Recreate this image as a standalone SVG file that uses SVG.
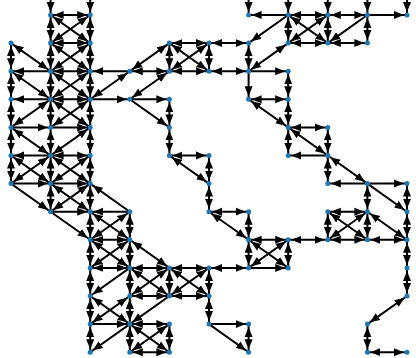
<svg xmlns="http://www.w3.org/2000/svg" width="416" height="358" viewBox="0 0 416 358">
<defs>
<marker id="ah" markerUnits="userSpaceOnUse" markerWidth="14" markerHeight="9" refX="13" refY="4" orient="auto-start-reverse" viewBox="0 0 14 8">
<path d="M0,0 L10,4 L0,8 z" fill="#000"/>
</marker>
</defs>
<style>
line{stroke:#000;stroke-width:2;fill:none}
.b{marker-start:url(#ah);marker-end:url(#ah)}
.f{marker-end:url(#ah)}
circle{fill:#1f77b4}
</style>
<rect width="416" height="358" fill="#fff"/>
<g id="edges">
<line class="b" x1="50.6" y1="-13" x2="50.6" y2="15"/>
<line class="b" x1="90.2" y1="-13" x2="90.2" y2="15"/>
<line class="b" x1="50.6" y1="15" x2="90.2" y2="15"/>
<line class="b" x1="50.6" y1="15" x2="50.6" y2="43.1"/>
<line class="b" x1="90.2" y1="15" x2="90.2" y2="43.1"/>
<line class="b" x1="50.6" y1="15" x2="90.2" y2="43.1"/>
<line class="b" x1="90.2" y1="15" x2="50.6" y2="43.1"/>
<line class="b" x1="50.6" y1="43.1" x2="90.2" y2="43.1"/>
<line class="b" x1="50.6" y1="43.1" x2="50.6" y2="71.2"/>
<line class="b" x1="90.2" y1="43.1" x2="90.2" y2="71.2"/>
<line class="b" x1="50.6" y1="43.1" x2="90.2" y2="71.2"/>
<line class="b" x1="90.2" y1="43.1" x2="50.6" y2="71.2"/>
<line class="b" x1="11" y1="43.1" x2="11" y2="71.2"/>
<line class="b" x1="50.6" y1="71.2" x2="11" y2="43.1"/>
<line class="f" x1="50.6" y1="71.2" x2="11" y2="71.2"/>
<line class="b" x1="50.6" y1="71.2" x2="90.2" y2="71.2"/>
<line class="f" x1="129.8" y1="71.2" x2="90.2" y2="71.2"/>
<line class="b" x1="129.8" y1="71.2" x2="169.4" y2="43.1"/>
<line class="b" x1="129.8" y1="71.2" x2="90.2" y2="99.3"/>
<line class="b" x1="11" y1="71.2" x2="11" y2="99.3"/>
<line class="b" x1="50.6" y1="71.2" x2="50.6" y2="99.3"/>
<line class="b" x1="90.2" y1="71.2" x2="90.2" y2="99.3"/>
<line class="b" x1="11" y1="71.2" x2="50.6" y2="99.3"/>
<line class="b" x1="90.2" y1="71.2" x2="50.6" y2="99.3"/>
<line class="b" x1="50.6" y1="71.2" x2="90.2" y2="99.3"/>
<line class="f" x1="50.6" y1="99.3" x2="11" y2="99.3"/>
<line class="b" x1="50.6" y1="99.3" x2="90.2" y2="99.3"/>
<line class="f" x1="90.2" y1="99.3" x2="129.8" y2="99.3"/>
<line class="b" x1="11" y1="99.3" x2="11" y2="127.4"/>
<line class="b" x1="50.6" y1="99.3" x2="50.6" y2="127.4"/>
<line class="b" x1="90.2" y1="99.3" x2="90.2" y2="127.4"/>
<line class="b" x1="50.6" y1="99.3" x2="11" y2="127.4"/>
<line class="b" x1="50.6" y1="99.3" x2="90.2" y2="127.4"/>
<line class="b" x1="90.2" y1="99.3" x2="50.6" y2="127.4"/>
<line class="f" x1="11" y1="127.4" x2="50.6" y2="127.4"/>
<line class="f" x1="50.6" y1="127.4" x2="90.2" y2="127.4"/>
<line class="b" x1="11" y1="127.4" x2="50.6" y2="155.5"/>
<line class="b" x1="90.2" y1="127.4" x2="50.6" y2="155.5"/>
<line class="b" x1="50.6" y1="127.4" x2="50.6" y2="155.5"/>
<line class="b" x1="90.2" y1="127.4" x2="90.2" y2="155.5"/>
<line class="b" x1="11" y1="127.4" x2="11" y2="155.5"/>
<line class="f" x1="50.6" y1="155.5" x2="11" y2="155.5"/>
<line class="b" x1="50.6" y1="155.5" x2="90.2" y2="155.5"/>
<line class="b" x1="11" y1="155.5" x2="11" y2="183.6"/>
<line class="b" x1="50.6" y1="155.5" x2="50.6" y2="183.6"/>
<line class="b" x1="90.2" y1="155.5" x2="90.2" y2="183.6"/>
<line class="b" x1="11" y1="155.5" x2="50.6" y2="183.6"/>
<line class="b" x1="50.6" y1="155.5" x2="11" y2="183.6"/>
<line class="b" x1="50.6" y1="155.5" x2="90.2" y2="183.6"/>
<line class="b" x1="90.2" y1="155.5" x2="50.6" y2="183.6"/>
<line class="f" x1="11" y1="183.6" x2="50.6" y2="183.6"/>
<line class="f" x1="50.6" y1="183.6" x2="90.2" y2="183.6"/>
<line class="f" x1="11" y1="183.6" x2="50.6" y2="211.7"/>
<line class="b" x1="50.6" y1="183.6" x2="50.6" y2="211.7"/>
<line class="b" x1="90.2" y1="183.6" x2="90.2" y2="211.7"/>
<line class="b" x1="50.6" y1="183.6" x2="90.2" y2="211.7"/>
<line class="b" x1="90.2" y1="183.6" x2="50.6" y2="211.7"/>
<line class="f" x1="129.8" y1="211.7" x2="90.2" y2="183.6"/>
<line class="f" x1="50.6" y1="211.7" x2="90.2" y2="211.7"/>
<line class="f" x1="129.8" y1="211.7" x2="90.2" y2="211.7"/>
<line class="f" x1="50.6" y1="211.7" x2="90.2" y2="239.8"/>
<line class="b" x1="90.2" y1="211.7" x2="90.2" y2="239.8"/>
<line class="b" x1="90.2" y1="211.7" x2="129.8" y2="239.8"/>
<line class="b" x1="129.8" y1="211.7" x2="90.2" y2="239.8"/>
<line class="b" x1="129.8" y1="211.7" x2="129.8" y2="239.8"/>
<line class="b" x1="90.2" y1="239.8" x2="129.8" y2="239.8"/>
<line class="b" x1="90.2" y1="239.8" x2="129.8" y2="267.9"/>
<line class="b" x1="129.8" y1="239.8" x2="90.2" y2="267.9"/>
<line class="b" x1="90.2" y1="239.8" x2="90.2" y2="267.9"/>
<line class="b" x1="129.8" y1="239.8" x2="129.8" y2="267.9"/>
<line class="b" x1="129.8" y1="239.8" x2="169.4" y2="267.9"/>
<line class="b" x1="90.2" y1="267.9" x2="129.8" y2="267.9"/>
<line class="b" x1="129.8" y1="267.9" x2="169.4" y2="267.9"/>
<line class="b" x1="169.4" y1="267.9" x2="209" y2="267.9"/>
<line class="b" x1="209" y1="267.9" x2="248.6" y2="267.9"/>
<line class="f" x1="248.6" y1="267.9" x2="288.2" y2="267.9"/>
<line class="b" x1="90.2" y1="267.9" x2="90.2" y2="296"/>
<line class="f" x1="129.8" y1="267.9" x2="90.2" y2="296"/>
<line class="b" x1="129.8" y1="267.9" x2="129.8" y2="296"/>
<line class="b" x1="129.8" y1="267.9" x2="169.4" y2="296"/>
<line class="b" x1="169.4" y1="267.9" x2="129.8" y2="296"/>
<line class="b" x1="169.4" y1="267.9" x2="209" y2="296"/>
<line class="b" x1="209" y1="267.9" x2="169.4" y2="296"/>
<line class="b" x1="169.4" y1="267.9" x2="169.4" y2="296"/>
<line class="b" x1="209" y1="267.9" x2="209" y2="296"/>
<line class="b" x1="129.8" y1="296" x2="169.4" y2="296"/>
<line class="b" x1="169.4" y1="296" x2="209" y2="296"/>
<line class="f" x1="169.4" y1="296" x2="129.8" y2="324.1"/>
<line class="b" x1="90.2" y1="296" x2="129.8" y2="324.1"/>
<line class="b" x1="129.8" y1="296" x2="90.2" y2="324.1"/>
<line class="b" x1="90.2" y1="296" x2="90.2" y2="324.1"/>
<line class="b" x1="129.8" y1="296" x2="129.8" y2="324.1"/>
<line class="f" x1="90.2" y1="324.1" x2="129.8" y2="324.1"/>
<line class="b" x1="129.8" y1="324.1" x2="169.4" y2="324.1"/>
<line class="f" x1="129.8" y1="324.1" x2="90.2" y2="352.2"/>
<line class="b" x1="90.2" y1="324.1" x2="90.2" y2="352.2"/>
<line class="b" x1="129.8" y1="324.1" x2="129.8" y2="352.2"/>
<line class="b" x1="129.8" y1="324.1" x2="169.4" y2="352.2"/>
<line class="b" x1="169.4" y1="324.1" x2="129.8" y2="352.2"/>
<line class="b" x1="169.4" y1="324.1" x2="169.4" y2="352.2"/>
<line class="b" x1="129.8" y1="352.2" x2="169.4" y2="352.2"/>
<line class="b" x1="209" y1="296" x2="209" y2="324.1"/>
<line class="f" x1="209" y1="324.1" x2="248.6" y2="324.1"/>
<line class="f" x1="209" y1="324.1" x2="248.6" y2="352.2"/>
<line class="b" x1="248.6" y1="324.1" x2="248.6" y2="352.2"/>
<line class="b" x1="129.8" y1="71.2" x2="169.4" y2="71.2"/>
<line class="b" x1="169.4" y1="71.2" x2="209" y2="71.2"/>
<line class="b" x1="209" y1="71.2" x2="248.6" y2="71.2"/>
<line class="f" x1="248.6" y1="71.2" x2="288.2" y2="71.2"/>
<line class="b" x1="169.4" y1="43.1" x2="209" y2="43.1"/>
<line class="b" x1="209" y1="43.1" x2="248.6" y2="43.1"/>
<line class="b" x1="169.4" y1="43.1" x2="169.4" y2="71.2"/>
<line class="b" x1="209" y1="43.1" x2="209" y2="71.2"/>
<line class="b" x1="169.4" y1="43.1" x2="209" y2="71.2"/>
<line class="b" x1="209" y1="43.1" x2="169.4" y2="71.2"/>
<line class="b" x1="248.6" y1="43.1" x2="248.6" y2="71.2"/>
<line class="f" x1="288.2" y1="15" x2="248.6" y2="43.1"/>
<line class="b" x1="248.6" y1="71.2" x2="288.2" y2="43.1"/>
<line class="b" x1="169.4" y1="71.2" x2="129.8" y2="99.3"/>
<line class="f" x1="129.8" y1="99.3" x2="169.4" y2="99.3"/>
<line class="f" x1="129.8" y1="99.3" x2="169.4" y2="127.4"/>
<line class="b" x1="169.4" y1="99.3" x2="169.4" y2="127.4"/>
<line class="b" x1="169.4" y1="127.4" x2="169.4" y2="155.5"/>
<line class="b" x1="169.4" y1="155.5" x2="209" y2="155.5"/>
<line class="b" x1="169.4" y1="155.5" x2="209" y2="183.6"/>
<line class="b" x1="209" y1="155.5" x2="209" y2="183.6"/>
<line class="b" x1="209" y1="183.6" x2="209" y2="211.7"/>
<line class="b" x1="209" y1="211.7" x2="248.6" y2="211.7"/>
<line class="b" x1="209" y1="211.7" x2="248.6" y2="239.8"/>
<line class="b" x1="248.6" y1="211.7" x2="248.6" y2="239.8"/>
<line class="b" x1="248.6" y1="239.8" x2="288.2" y2="239.8"/>
<line class="b" x1="248.6" y1="239.8" x2="288.2" y2="267.9"/>
<line class="b" x1="248.6" y1="267.9" x2="288.2" y2="239.8"/>
<line class="b" x1="248.6" y1="239.8" x2="248.6" y2="267.9"/>
<line class="b" x1="288.2" y1="239.8" x2="288.2" y2="267.9"/>
<line class="f" x1="248.6" y1="71.2" x2="248.6" y2="99.3"/>
<line class="b" x1="248.6" y1="99.3" x2="288.2" y2="99.3"/>
<line class="b" x1="248.6" y1="99.3" x2="288.2" y2="127.4"/>
<line class="b" x1="288.2" y1="71.2" x2="288.2" y2="99.3"/>
<line class="b" x1="288.2" y1="99.3" x2="288.2" y2="127.4"/>
<line class="b" x1="288.2" y1="127.4" x2="327.8" y2="127.4"/>
<line class="b" x1="288.2" y1="127.4" x2="327.8" y2="155.5"/>
<line class="b" x1="327.8" y1="127.4" x2="327.8" y2="155.5"/>
<line class="b" x1="288.2" y1="127.4" x2="288.2" y2="155.5"/>
<line class="f" x1="327.8" y1="155.5" x2="288.2" y2="155.5"/>
<line class="b" x1="327.8" y1="155.5" x2="367.4" y2="183.6"/>
<line class="b" x1="327.8" y1="155.5" x2="327.8" y2="183.6"/>
<line class="f" x1="367.4" y1="183.6" x2="327.8" y2="183.6"/>
<line class="f" x1="367.4" y1="183.6" x2="407" y2="183.6"/>
<line class="f" x1="367.4" y1="183.6" x2="407" y2="211.7"/>
<line class="b" x1="367.4" y1="183.6" x2="367.4" y2="211.7"/>
<line class="b" x1="407" y1="183.6" x2="407" y2="211.7"/>
<line class="b" x1="367.4" y1="211.7" x2="327.8" y2="211.7"/>
<line class="b" x1="327.8" y1="211.7" x2="367.4" y2="239.8"/>
<line class="b" x1="367.4" y1="211.7" x2="327.8" y2="239.8"/>
<line class="b" x1="327.8" y1="211.7" x2="327.8" y2="239.8"/>
<line class="b" x1="367.4" y1="211.7" x2="367.4" y2="239.8"/>
<line class="b" x1="367.4" y1="211.7" x2="407" y2="239.8"/>
<line class="b" x1="407" y1="211.7" x2="407" y2="239.8"/>
<line class="b" x1="288.2" y1="239.8" x2="327.8" y2="239.8"/>
<line class="b" x1="327.8" y1="239.8" x2="367.4" y2="239.8"/>
<line class="b" x1="367.4" y1="239.8" x2="407" y2="239.8"/>
<line class="b" x1="407" y1="239.8" x2="407" y2="267.9"/>
<line class="b" x1="407" y1="267.9" x2="407" y2="296"/>
<line class="b" x1="407" y1="296" x2="367.4" y2="324.1"/>
<line class="b" x1="367.4" y1="324.1" x2="367.4" y2="352.2"/>
<line class="b" x1="367.4" y1="352.2" x2="407" y2="352.2"/>
<line class="f" x1="248.6" y1="-13" x2="248.6" y2="15"/>
<line class="f" x1="288.2" y1="15" x2="248.6" y2="15"/>
<line class="b" x1="288.2" y1="15" x2="327.8" y2="15"/>
<line class="b" x1="367.4" y1="15" x2="327.8" y2="15"/>
<line class="f" x1="367.4" y1="15" x2="407" y2="15"/>
<line class="b" x1="288.2" y1="-13" x2="288.2" y2="15"/>
<line class="b" x1="327.8" y1="-13" x2="327.8" y2="15"/>
<line class="b" x1="367.4" y1="-13" x2="367.4" y2="15"/>
<line class="f" x1="407" y1="-13" x2="407" y2="15"/>
<line class="b" x1="288.2" y1="15" x2="288.2" y2="43.1"/>
<line class="b" x1="288.2" y1="15" x2="327.8" y2="43.1"/>
<line class="b" x1="327.8" y1="15" x2="288.2" y2="43.1"/>
<line class="b" x1="327.8" y1="15" x2="327.8" y2="43.1"/>
<line class="f" x1="367.4" y1="15" x2="327.8" y2="43.1"/>
<line class="b" x1="367.4" y1="15" x2="367.4" y2="43.1"/>
<line class="b" x1="288.2" y1="43.1" x2="327.8" y2="43.1"/>
<line class="b" x1="367.4" y1="43.1" x2="327.8" y2="43.1"/>
</g>
<g id="n1_0"><circle cx="50.6" cy="15" r="2.5"/></g>
<g id="n2_0"><circle cx="90.2" cy="15" r="2.5"/></g>
<g id="n6_0"><circle cx="248.6" cy="15" r="2.5"/></g>
<g id="n7_0"><circle cx="288.2" cy="15" r="2.5"/></g>
<g id="n8_0"><circle cx="327.8" cy="15" r="2.5"/></g>
<g id="n9_0"><circle cx="367.4" cy="15" r="2.5"/></g>
<g id="n10_0"><circle cx="407" cy="15" r="2.5"/></g>
<g id="n0_1"><circle cx="11" cy="43.1" r="2.5"/></g>
<g id="n1_1"><circle cx="50.6" cy="43.1" r="2.5"/></g>
<g id="n2_1"><circle cx="90.2" cy="43.1" r="2.5"/></g>
<g id="n4_1"><circle cx="169.4" cy="43.1" r="2.5"/></g>
<g id="n5_1"><circle cx="209" cy="43.1" r="2.5"/></g>
<g id="n6_1"><circle cx="248.6" cy="43.1" r="2.5"/></g>
<g id="n7_1"><circle cx="288.2" cy="43.1" r="2.5"/></g>
<g id="n8_1"><circle cx="327.8" cy="43.1" r="2.5"/></g>
<g id="n9_1"><circle cx="367.4" cy="43.1" r="2.5"/></g>
<g id="n0_2"><circle cx="11" cy="71.2" r="2.5"/></g>
<g id="n1_2"><circle cx="50.6" cy="71.2" r="2.5"/></g>
<g id="n2_2"><circle cx="90.2" cy="71.2" r="2.5"/></g>
<g id="n3_2"><circle cx="129.8" cy="71.2" r="2.5"/></g>
<g id="n4_2"><circle cx="169.4" cy="71.2" r="2.5"/></g>
<g id="n5_2"><circle cx="209" cy="71.2" r="2.5"/></g>
<g id="n6_2"><circle cx="248.6" cy="71.2" r="2.5"/></g>
<g id="n7_2"><circle cx="288.2" cy="71.2" r="2.5"/></g>
<g id="n0_3"><circle cx="11" cy="99.3" r="2.5"/></g>
<g id="n1_3"><circle cx="50.6" cy="99.3" r="2.5"/></g>
<g id="n2_3"><circle cx="90.2" cy="99.3" r="2.5"/></g>
<g id="n3_3"><circle cx="129.8" cy="99.3" r="2.5"/></g>
<g id="n4_3"><circle cx="169.4" cy="99.3" r="2.5"/></g>
<g id="n6_3"><circle cx="248.6" cy="99.3" r="2.5"/></g>
<g id="n7_3"><circle cx="288.2" cy="99.3" r="2.5"/></g>
<g id="n0_4"><circle cx="11" cy="127.4" r="2.5"/></g>
<g id="n1_4"><circle cx="50.6" cy="127.4" r="2.5"/></g>
<g id="n2_4"><circle cx="90.2" cy="127.4" r="2.5"/></g>
<g id="n4_4"><circle cx="169.4" cy="127.4" r="2.5"/></g>
<g id="n7_4"><circle cx="288.2" cy="127.4" r="2.5"/></g>
<g id="n8_4"><circle cx="327.8" cy="127.4" r="2.5"/></g>
<g id="n0_5"><circle cx="11" cy="155.5" r="2.5"/></g>
<g id="n1_5"><circle cx="50.6" cy="155.5" r="2.5"/></g>
<g id="n2_5"><circle cx="90.2" cy="155.5" r="2.5"/></g>
<g id="n4_5"><circle cx="169.4" cy="155.5" r="2.5"/></g>
<g id="n5_5"><circle cx="209" cy="155.5" r="2.5"/></g>
<g id="n7_5"><circle cx="288.2" cy="155.5" r="2.5"/></g>
<g id="n8_5"><circle cx="327.8" cy="155.5" r="2.5"/></g>
<g id="n0_6"><circle cx="11" cy="183.6" r="2.5"/></g>
<g id="n1_6"><circle cx="50.6" cy="183.6" r="2.5"/></g>
<g id="n2_6"><circle cx="90.2" cy="183.6" r="2.5"/></g>
<g id="n5_6"><circle cx="209" cy="183.6" r="2.5"/></g>
<g id="n8_6"><circle cx="327.8" cy="183.6" r="2.5"/></g>
<g id="n9_6"><circle cx="367.4" cy="183.6" r="2.5"/></g>
<g id="n10_6"><circle cx="407" cy="183.6" r="2.5"/></g>
<g id="n1_7"><circle cx="50.6" cy="211.7" r="2.5"/></g>
<g id="n2_7"><circle cx="90.2" cy="211.7" r="2.5"/></g>
<g id="n3_7"><circle cx="129.8" cy="211.7" r="2.5"/></g>
<g id="n5_7"><circle cx="209" cy="211.7" r="2.5"/></g>
<g id="n6_7"><circle cx="248.6" cy="211.7" r="2.5"/></g>
<g id="n8_7"><circle cx="327.8" cy="211.7" r="2.5"/></g>
<g id="n9_7"><circle cx="367.4" cy="211.7" r="2.5"/></g>
<g id="n10_7"><circle cx="407" cy="211.7" r="2.5"/></g>
<g id="n2_8"><circle cx="90.2" cy="239.8" r="2.5"/></g>
<g id="n3_8"><circle cx="129.8" cy="239.8" r="2.5"/></g>
<g id="n6_8"><circle cx="248.6" cy="239.8" r="2.5"/></g>
<g id="n7_8"><circle cx="288.2" cy="239.8" r="2.5"/></g>
<g id="n8_8"><circle cx="327.8" cy="239.8" r="2.5"/></g>
<g id="n9_8"><circle cx="367.4" cy="239.8" r="2.5"/></g>
<g id="n10_8"><circle cx="407" cy="239.8" r="2.5"/></g>
<g id="n2_9"><circle cx="90.2" cy="267.9" r="2.5"/></g>
<g id="n3_9"><circle cx="129.8" cy="267.9" r="2.5"/></g>
<g id="n4_9"><circle cx="169.4" cy="267.9" r="2.5"/></g>
<g id="n5_9"><circle cx="209" cy="267.9" r="2.5"/></g>
<g id="n6_9"><circle cx="248.6" cy="267.9" r="2.5"/></g>
<g id="n7_9"><circle cx="288.2" cy="267.9" r="2.5"/></g>
<g id="n10_9"><circle cx="407" cy="267.9" r="2.5"/></g>
<g id="n2_10"><circle cx="90.2" cy="296" r="2.5"/></g>
<g id="n3_10"><circle cx="129.8" cy="296" r="2.5"/></g>
<g id="n4_10"><circle cx="169.4" cy="296" r="2.5"/></g>
<g id="n5_10"><circle cx="209" cy="296" r="2.5"/></g>
<g id="n10_10"><circle cx="407" cy="296" r="2.5"/></g>
<g id="n2_11"><circle cx="90.2" cy="324.1" r="2.5"/></g>
<g id="n3_11"><circle cx="129.8" cy="324.1" r="2.5"/></g>
<g id="n4_11"><circle cx="169.4" cy="324.1" r="2.5"/></g>
<g id="n5_11"><circle cx="209" cy="324.1" r="2.5"/></g>
<g id="n6_11"><circle cx="248.6" cy="324.1" r="2.5"/></g>
<g id="n9_11"><circle cx="367.4" cy="324.1" r="2.5"/></g>
<g id="n2_12"><circle cx="90.2" cy="352.2" r="2.5"/></g>
<g id="n3_12"><circle cx="129.8" cy="352.2" r="2.5"/></g>
<g id="n4_12"><circle cx="169.4" cy="352.2" r="2.5"/></g>
<g id="n6_12"><circle cx="248.6" cy="352.2" r="2.5"/></g>
<g id="n9_12"><circle cx="367.4" cy="352.2" r="2.5"/></g>
<g id="n10_12"><circle cx="407" cy="352.2" r="2.5"/></g>
</svg>
